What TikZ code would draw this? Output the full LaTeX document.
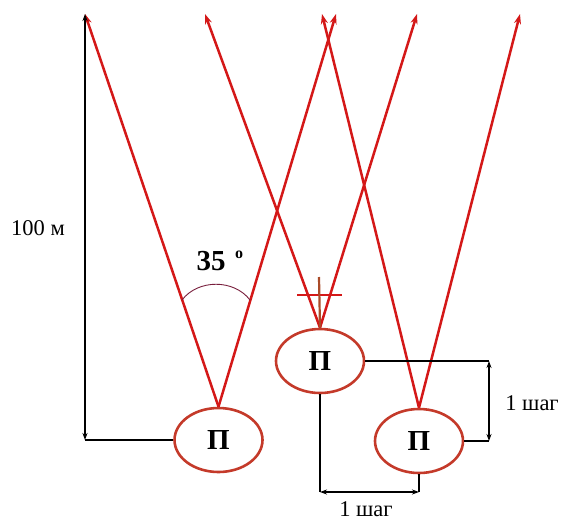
\documentclass[tikz,border=0pt]{standalone}
\usepackage{fontspec}
\setmainfont{Liberation Serif}
\usetikzlibrary{arrows.meta,shapes.geometric}
\definecolor{ray}{RGB}{212,24,24}
\definecolor{ellc}{RGB}{196,58,42}
\definecolor{arcc}{RGB}{120,30,60}
\definecolor{brn}{RGB}{170,75,40}
\tikzset{
  post/.style={ellipse, draw=ellc, line width=2.6pt, minimum width=88pt, minimum height=64pt, inner sep=0pt, font=\fontsize{29}{30}\selectfont\bfseries},
  rayline/.style={draw=ray, line width=2.5pt, -{Stealth[length=10pt,width=7pt]}},
  dim/.style={draw=black, line width=1.5pt, {Stealth[length=7pt,width=5pt]}-{Stealth[length=7pt,width=5pt]}},
  thin/.style={draw=black, line width=1.5pt},
  lbl/.style={font=\fontsize{22.5}{24}\selectfont, inner sep=0pt}
}
\begin{document}
\begin{tikzpicture}[x=1pt,y=-1pt]
\useasboundingbox (0,0) rectangle (561,522);
% posts
\node[post] (L) at (218.5,440) {П};
\node[post] (M) at (320,361) {П};
\node[post] (R) at (419,441) {П};
% ray tips
\coordinate (t1) at (85,14);
\coordinate (t2) at (205,14);
\coordinate (t3) at (322,14);
\coordinate (t4) at (336,14);
\coordinate (t5) at (417,14);
\coordinate (t6) at (520,14);
% rays
\draw[rayline] (L.north) -- (t1);
\draw[rayline] (L.north) -- (t4);
\draw[rayline] (M.north) -- (t2);
\draw[rayline] (M.north) -- (t5);
\draw[rayline] (R.north) -- (t3);
\draw[rayline] (R.north) -- (t6);
% marker cross
\coordinate (cx1) at (297,295);
\coordinate (cx2) at (342,295);
\coordinate (cv) at (319,277);
\draw[draw=ray, line width=2.4pt] (cx1) -- (cx2);
\draw[draw=brn, line width=2.2pt] (cv) -- (M.north);
% angle arc
\coordinate (a1) at (182,300);
\coordinate (a2) at (250,300);
\draw[arcc, line width=0.9pt] (a1) .. controls (198,279) and (234,279) .. (a2);
\node[font=\fontsize{29}{30}\selectfont\bfseries, inner sep=0pt] (ang) at (211,261) {35};
\node[font=\fontsize{16}{17}\selectfont\bfseries, inner sep=0pt] (deg) at (239,255) {o};
% 100 m dimension
\coordinate (c100b) at (85,440);
\draw[thin] (L.west) -- (c100b);
\draw[dim] (c100b) -- (t1);
\node[lbl] (h100) at (38,228) {100 м};
% right step dimension
\coordinate (rs1) at (489,361);
\coordinate (rs2) at (489,441);
\draw[thin] (M.east) -- (rs1);
\draw[thin] (R.east) -- (rs2);
\draw[dim] (rs1) -- (rs2);
\node[lbl] (step1) at (532,403) {1 шаг};
% bottom step dimension
\coordinate (bs1) at (320,492);
\coordinate (bs2) at (419,492);
\draw[thin] (M.south) -- (bs1);
\draw[thin] (R.south) -- (bs2);
\draw[dim] (bs1) -- (bs2);
\node[lbl] (step2) at (366,509) {1 шаг};
\end{tikzpicture}
\end{document}
